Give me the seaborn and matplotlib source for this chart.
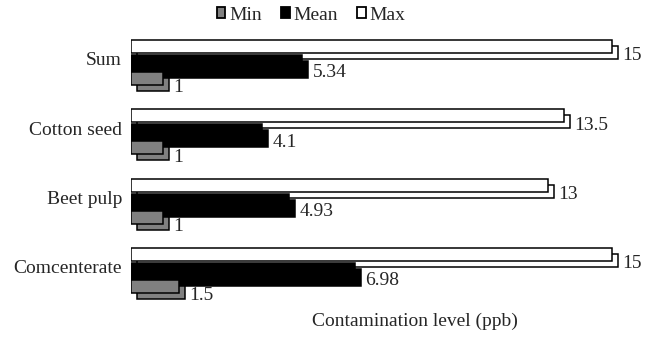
import matplotlib
matplotlib.use("Agg")
import matplotlib.pyplot as plt
from matplotlib.patches import Rectangle, Patch
from matplotlib.transforms import ScaledTranslation
import seaborn as sns
import pandas as pd

categories = ["Sum", "Cotton seed", "Beet pulp", "Comcenterate"]
series = ["Min", "Mean", "Max"]
min_vals = [1, 1, 1, 1.5]
mean_vals = [5.34, 4.1, 4.93, 6.98]
max_vals = [15, 13.5, 13, 15]
label_text = {"Min": ["1", "1", "1", "1.5"],
              "Mean": ["5.34", "4.1", "4.93", "6.98"],
              "Max": ["15", "13.5", "13", "15"]}
colors = {"Min": "#808080", "Mean": "#000000", "Max": "#ffffff"}
xlabel = "Contamination level (ppb)"

rows = []
for i, c in enumerate(categories):
    rows.append({"cat": c, "series": "Max", "value": max_vals[i]})
    rows.append({"cat": c, "series": "Mean", "value": mean_vals[i]})
    rows.append({"cat": c, "series": "Min", "value": min_vals[i]})
df = pd.DataFrame(rows)

sns.set_style("white")
plt.rcParams["font.family"] = ["Liberation Serif", "DejaVu Serif"]

W, H, DPI = 645, 339, 100
fig = plt.figure(figsize=(W / DPI, H / DPI), dpi=DPI)
ax_left, ax_w = 131, 513
ax_top, ax_h = 28.8, 277.3
ax = fig.add_axes([ax_left / W, (H - ax_top - ax_h) / H, ax_w / W, ax_h / H])

hue_order = ["Max", "Mean", "Min"]
sns.barplot(data=df, x="value", y="cat", hue="series", hue_order=hue_order,
            order=categories, orient="h", width=0.69, palette=colors,
            edgecolor="black", linewidth=1.1, saturation=1, legend=False,
            errorbar=None, ax=ax)

px = 1.0 / 69.33  # data units per pixel in y
front_h = {"Max": 13 * px, "Mean": 17 * px, "Min": 13 * px}
center_shift = {"Max": -17 * px, "Mean": 0.0, "Min": 15 * px}
zbase = {"Max": 2, "Mean": 4, "Min": 6}

shadow_off = ScaledTranslation(6 / DPI, -6 / DPI, fig.dpi_scale_trans)
for k, s in enumerate(hue_order):
    cont = ax.containers[k]
    for i, bar in enumerate(cont):
        cy = i + center_shift[s]
        h = front_h[s]
        bar.set_y(cy - h / 2)
        bar.set_height(h)
        bar.set_zorder(zbase[s] + 0.5)
        shadow = Rectangle((0, cy - h / 2), bar.get_width(), h,
                           facecolor=colors[s], edgecolor="black",
                           linewidth=1.1, zorder=zbase[s],
                           transform=ax.transData + shadow_off)
        ax.add_patch(shadow)
        ax.annotate(label_text[s][i], xy=(bar.get_width(), cy),
                    xytext=(10.5 * 0.72, -9.5 * 0.72), textcoords="offset points",
                    va="center", ha="left", fontsize=14, zorder=10,
                    annotation_clip=False)

ax.set_xlim(0, 16)
ax.set_ylim(3.5, -0.5)
ax.set_yticks([i - 0.065 for i in range(len(categories))], labels=categories)
ax.tick_params(axis="y", length=0, pad=6.5, labelsize=14)
ax.set_xticks([])
ax.set_ylabel("")
ax.set_xlabel(xlabel, fontsize=14)
ax.xaxis.set_label_coords((415 - ax_left) / ax_w, -(313 - ax_top - ax_h) / ax_h)
for sp in ax.spines.values():
    sp.set_visible(False)
ax.set_facecolor("none")

handles = [Patch(facecolor=colors[s], edgecolor="black", linewidth=1.3, label=s)
           for s in series]
fig.legend(handles=handles, loc="center", bbox_to_anchor=(311 / W, 1 - 15 / H),
           ncol=3, frameon=False, fontsize=14, handlelength=0.45,
           handleheight=0.45, handletextpad=0.18, columnspacing=1.0,
           borderpad=0, borderaxespad=0)

fig.savefig("out.png", dpi=DPI)
